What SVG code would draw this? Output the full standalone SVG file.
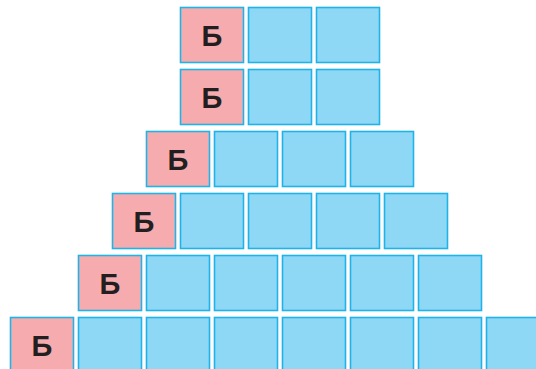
<svg xmlns="http://www.w3.org/2000/svg" width="536" height="369" viewBox="0 0 536 369">
<style>
.c{stroke:#1fb3e8;stroke-width:1.6}
.b{fill:#8ed7f5}
.p{fill:#f6acaf}
.t{font-family:"Liberation Sans",Arial,sans-serif;font-weight:bold;font-size:29px;fill:#231f20;text-anchor:middle}
</style>
<rect width="536" height="369" fill="#fff"/>
<g id="row1">
<rect class="c p" x="180.5" y="7.5" width="63" height="55"/>
<text class="t" x="212" y="45.5">Б</text>
<rect class="c b" x="248.5" y="7.5" width="63" height="55"/>
<rect class="c b" x="316.5" y="7.5" width="63" height="55"/>
</g>
<g id="row2">
<rect class="c p" x="180.5" y="69.5" width="63" height="55"/>
<text class="t" x="212" y="107.5">Б</text>
<rect class="c b" x="248.5" y="69.5" width="63" height="55"/>
<rect class="c b" x="316.5" y="69.5" width="63" height="55"/>
</g>
<g id="row3">
<rect class="c p" x="146.5" y="131.5" width="63" height="55"/>
<text class="t" x="178" y="169.5">Б</text>
<rect class="c b" x="214.5" y="131.5" width="63" height="55"/>
<rect class="c b" x="282.5" y="131.5" width="63" height="55"/>
<rect class="c b" x="350.5" y="131.5" width="63" height="55"/>
</g>
<g id="row4">
<rect class="c p" x="112.5" y="193.5" width="63" height="55"/>
<text class="t" x="144" y="231.5">Б</text>
<rect class="c b" x="180.5" y="193.5" width="63" height="55"/>
<rect class="c b" x="248.5" y="193.5" width="63" height="55"/>
<rect class="c b" x="316.5" y="193.5" width="63" height="55"/>
<rect class="c b" x="384.5" y="193.5" width="63" height="55"/>
</g>
<g id="row5">
<rect class="c p" x="78.5" y="255.5" width="63" height="55"/>
<text class="t" x="110" y="293.5">Б</text>
<rect class="c b" x="146.5" y="255.5" width="63" height="55"/>
<rect class="c b" x="214.5" y="255.5" width="63" height="55"/>
<rect class="c b" x="282.5" y="255.5" width="63" height="55"/>
<rect class="c b" x="350.5" y="255.5" width="63" height="55"/>
<rect class="c b" x="418.5" y="255.5" width="63" height="55"/>
</g>
<g id="row6">
<rect class="c p" x="10.5" y="317.5" width="63" height="55"/>
<text class="t" x="42" y="355.5">Б</text>
<rect class="c b" x="78.5" y="317.5" width="63" height="55"/>
<rect class="c b" x="146.5" y="317.5" width="63" height="55"/>
<rect class="c b" x="214.5" y="317.5" width="63" height="55"/>
<rect class="c b" x="282.5" y="317.5" width="63" height="55"/>
<rect class="c b" x="350.5" y="317.5" width="63" height="55"/>
<rect class="c b" x="418.5" y="317.5" width="63" height="55"/>
<rect class="c b" x="486.5" y="317.5" width="63" height="55"/>
</g>
<g id="connectors"></g>
</svg>
